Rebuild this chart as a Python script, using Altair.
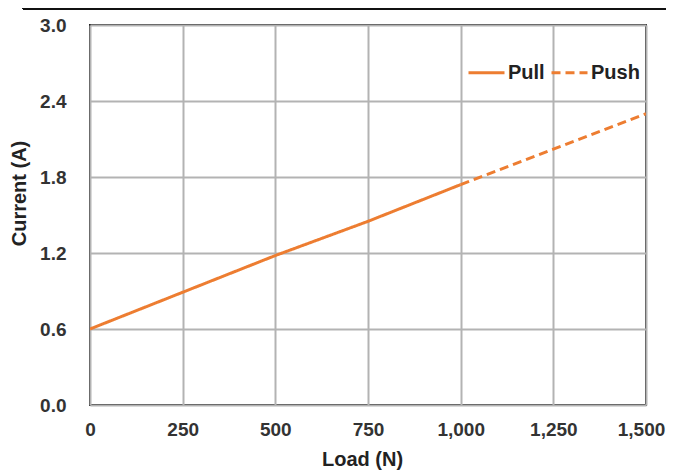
import altair as alt
import pandas as pd

pull_load = [0, 250, 500, 750, 1000]
pull_current = [0.60, 0.89, 1.18, 1.45, 1.74]
push_load = [1000, 1250, 1500]
push_current = [1.74, 2.02, 2.30]

x_ticks = [0, 250, 500, 750, 1000, 1250, 1500]
y_ticks = [0.0, 0.6, 1.2, 1.8, 2.4, 3.0]

rows = [{"Load": l, "Current": c, "Series": "Pull"} for l, c in zip(pull_load, pull_current)]
rows += [{"Load": l, "Current": c, "Series": "Push"} for l, c in zip(push_load, push_current)]
df = pd.DataFrame(rows)

ORANGE = "#ED7D31"
FONT = "Liberation Sans"

legend = alt.Legend(title=None, orient="none", direction="horizontal",
                    legendX=377, legendY=28, symbolType="stroke",
                    symbolStrokeWidth=3, symbolSize=1296,
                    labelFont=FONT, labelFontWeight="bold",
                    labelFontSize=20, labelColor="#222",
                    columnPadding=0, labelOffset=2)

lines = alt.Chart(df).mark_line(strokeWidth=3, clip=True).encode(
    x=alt.X("Load:Q", scale=alt.Scale(domain=[0, 1500], nice=False),
            axis=alt.Axis(values=x_ticks, format=",d", title="Load (N)",
                          labelPadding=15, labelFlush=False,
                          labelOffset={"condition": {"test": "datum.value == 1500", "value": -5}, "value": 0},
                          titleX=272, titleY=54,
                          titleBaseline="middle", titleAlign="center")),
    y=alt.Y("Current:Q", scale=alt.Scale(domain=[0, 3.0], nice=False),
            axis=alt.Axis(values=y_ticks, format=".1f", title="Current (A)",
                          labelPadding=24, labelFlush=False, titleX=-71, titleY=168,
                          titleAngle=270, titleBaseline="middle", titleAlign="center")),
    color=alt.Color("Series:N", scale=alt.Scale(domain=["Pull", "Push"], range=[ORANGE, ORANGE]),
                    legend=legend),
    strokeDash=alt.StrokeDash("Series:N",
                              scale=alt.Scale(domain=["Pull", "Push"], range=[[1, 0], [9, 5]]),
                              legend=legend),
)

box_top = alt.Chart(pd.DataFrame({"a": [0]})).mark_rule(color="#111", strokeWidth=2).encode(
    x=alt.value(-67), x2=alt.value(620), y=alt.value(-16))
box_left = alt.Chart(pd.DataFrame({"a": [0]})).mark_rule(color="#111", strokeWidth=2).encode(
    x=alt.value(-67), y=alt.value(-20), y2=alt.value(-16))

chart = alt.layer(lines, box_top, box_left).properties(
    width=556, height=380,
    autosize=alt.AutoSizeParams(type="none"),
    padding={"left": 82, "top": 17, "right": 20, "bottom": 70},
    background="white",
).configure_view(
    stroke="#222", strokeWidth=2
).configure_axis(
    grid=True, gridColor="#b3b3b3", gridWidth=2, domain=False, ticks=False,
    labelFont=FONT, labelFontWeight="bold", labelFontSize=19, labelColor="#333",
    titleFont=FONT, titleFontWeight="bold", titleFontSize=20, titleColor="#222",
)

chart.save("out.html", embed_options={"renderer": "svg", "actions": False})
